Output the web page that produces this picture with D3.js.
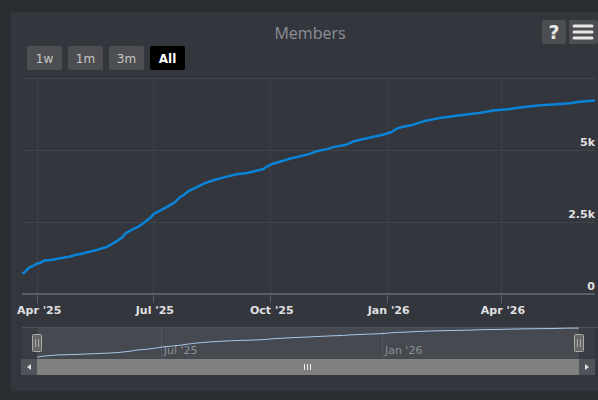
<!DOCTYPE html>
<meta charset="utf-8">
<style>
  body { margin: 0; background: #2a2d32; }
  svg { display: block; }
  .grid line { stroke: #41454c; stroke-width: 1; }
  .vgrid line { stroke: #3b3f46; stroke-width: 1; }
  .lbl { font-family: "DejaVu Sans", sans-serif; font-size: 11px; font-weight: bold; fill: #e0e0e3; }
  .nav-lbl { font-family: "DejaVu Sans", sans-serif; font-size: 11px; fill: #8c8f94; }
  .btn text { font-family: "DejaVu Sans", sans-serif; font-size: 12px; fill: #c8c8c8; }
</style>

<body>
  <script src="https://cdn.jsdelivr.net/npm/d3@7"></script>
  <script>

    // members over time
    var dates = [
      "2025-03-20", "2025-03-22", "2025-03-25", "2025-03-28", "2025-03-31", "2025-04-04", "2025-04-07",
      "2025-04-13", "2025-04-18", "2025-04-26", "2025-05-01", "2025-05-06", "2025-05-10", "2025-05-17",
      "2025-05-21", "2025-05-25", "2025-05-30", "2025-06-03", "2025-06-07", "2025-06-10", "2025-06-15",
      "2025-06-20", "2025-06-25", "2025-06-29", "2025-07-02", "2025-07-06", "2025-07-11", "2025-07-18",
      "2025-07-22", "2025-07-25", "2025-07-29", "2025-08-05", "2025-08-11", "2025-08-19", "2025-08-29",
      "2025-09-05", "2025-09-13", "2025-09-19", "2025-09-26", "2025-09-29", "2025-10-03", "2025-10-11",
      "2025-10-18", "2025-10-25", "2025-11-02", "2025-11-06", "2025-11-15", "2025-11-20", "2025-11-30",
      "2025-12-05", "2025-12-12", "2025-12-19", "2025-12-29", "2026-01-05", "2026-01-09", "2026-01-13",
      "2026-01-22", "2026-01-30", "2026-02-12", "2026-02-28", "2026-03-16", "2026-03-26", "2026-04-06",
      "2026-04-16", "2026-05-02", "2026-05-15", "2026-05-25", "2026-06-02", "2026-06-14"
    ];
    var members = [
      724, 745, 900, 956, 1040, 1096, 1166,
      1190, 1236, 1295, 1355, 1400, 1446, 1516,
      1575, 1621, 1740, 1845, 1971, 2125, 2240,
      2345, 2510, 2650, 2790, 2880, 3000, 3175,
      3350, 3430, 3570, 3720, 3850, 3965, 4085,
      4155, 4200, 4260, 4340, 4435, 4515, 4620,
      4715, 4785, 4875, 4945, 5030, 5100, 5180,
      5285, 5365, 5435, 5530, 5625, 5740, 5800,
      5880, 5995, 6115, 6205, 6290, 6370, 6415,
      6475, 6555, 6590, 6625, 6675, 6720
    ];
    var yTicks = [0, 2500, 5000, 7500];
    var yTickLabels = ["0", "2.5k", "5k", ""];
    var buttons = ["1w", "1m", "3m", "All"];
    var title = "Members";

    var parse = d3.timeParse("%Y-%m-%d");
    var data = dates.map(function (d, i) { return { date: parse(d), value: members[i] }; });

    var width = 598,
      height = 400;

    var svg = d3.select("body").append("svg")
      .attr("width", width)
      .attr("height", height);

    // panel
    svg.append("rect")
      .attr("x", 11).attr("y", 12)
      .attr("width", width - 11).attr("height", 379)
      .attr("fill", "#33363d");

    svg.append("text")
      .attr("x", 310).attr("y", 39)
      .attr("text-anchor", "middle")
      .style("font-family", "'Open Sans', sans-serif")
      .style("font-size", "16px")
      .style("fill", "#8b9096")
      .text(title);

    // range selector buttons
    var btn = svg.selectAll(".btn")
      .data(buttons)
      .enter().append("g")
      .attr("class", "btn")
      .attr("transform", function (d, i) { return "translate(" + (27 + i * 41) + ",46)"; });

    btn.append("rect")
      .attr("width", 35).attr("height", 24).attr("rx", 2)
      .attr("fill", function (d) { return d === "All" ? "#000" : "#4d4e51"; });

    btn.append("text")
      .attr("x", 17.5).attr("y", 17)
      .attr("text-anchor", "middle")
      .style("fill", function (d) { return d === "All" ? "#fff" : "#c8c8c8"; })
      .style("font-weight", function (d) { return d === "All" ? "bold" : "normal"; })
      .text(function (d) { return d; });

    // export / help buttons
    svg.append("rect").attr("x", 542).attr("y", 20).attr("width", 24).attr("height", 24).attr("rx", 2).attr("fill", "#4d4e51");
    svg.append("text").attr("x", 554).attr("y", 39).attr("text-anchor", "middle")
      .style("font-family", "'DejaVu Sans', sans-serif").style("font-size", "19px").style("font-weight", "bold")
      .style("fill", "#e6e6e6").text("?");
    svg.append("rect").attr("x", 569).attr("y", 20).attr("width", 29).attr("height", 24).attr("rx", 2).attr("fill", "#4d4e51");
    [26, 32, 38].forEach(function (yy) {
      svg.append("line").attr("x1", 574).attr("x2", 592).attr("y1", yy).attr("y2", yy)
        .attr("stroke", "#e6e6e6").attr("stroke-width", 3).attr("stroke-linecap", "round");
    });

    // main chart
    var x = d3.scaleTime()
      .domain([parse("2025-03-20"), parse("2026-06-14")])
      .range([22, 595]);

    var y = d3.scaleLinear()
      .domain([0, 7500])
      .range([294, 78]);

    var months = x.ticks(d3.timeMonth.every(3));
    var fmt = d3.timeFormat("%b '%y");

    svg.append("g").attr("class", "vgrid")
      .selectAll("line").data(months).enter().append("line")
      .attr("x1", function (d) { return Math.round(x(d)) + 0.5; })
      .attr("x2", function (d) { return Math.round(x(d)) + 0.5; })
      .attr("y1", 78).attr("y2", 294);

    svg.append("g").attr("class", "grid")
      .selectAll("line").data(yTicks.slice(1)).enter().append("line")
      .attr("x1", 22).attr("x2", 595)
      .attr("y1", function (d) { return Math.round(y(d)) + 0.5; })
      .attr("y2", function (d) { return Math.round(y(d)) + 0.5; });

    svg.selectAll(".ylbl")
      .data(yTicks).enter().append("text")
      .attr("class", "lbl")
      .attr("x", 595)
      .attr("y", function (d) { return y(d) - 4; })
      .attr("text-anchor", "end")
      .text(function (d, i) { return yTickLabels[i]; });

    // x axis line and ticks
    svg.append("line")
      .attr("x1", 22).attr("x2", 595).attr("y1", 294).attr("y2", 294)
      .attr("stroke", "#5b5e64").attr("stroke-width", 2);

    svg.selectAll(".xtick")
      .data(months).enter().append("line")
      .attr("x1", function (d) { return Math.round(x(d)) + 0.5; })
      .attr("x2", function (d) { return Math.round(x(d)) + 0.5; })
      .attr("y1", 295).attr("y2", 303)
      .attr("stroke", "#5b5e64");

    svg.selectAll(".xlbl")
      .data(months).enter().append("text")
      .attr("class", "lbl")
      .attr("x", function (d) { return x(d) + 2; })
      .attr("y", 314)
      .attr("text-anchor", "middle")
      .text(fmt);

    var line = d3.line()
      .x(function (d) { return x(d.date); })
      .y(function (d) { return y(d.value); });

    svg.append("path")
      .datum(data)
      .attr("d", line)
      .attr("fill", "none")
      .attr("stroke", "#0a84d8")
      .attr("stroke-width", 2.5)
      .attr("stroke-linejoin", "round");

    // navigator
    var nx = d3.scaleTime().domain(x.domain()).range([37, 579]);
    var ny = d3.scaleLinear().domain(d3.extent(members)).range([357, 328]);

    svg.append("rect").attr("x", 22).attr("y", 327).attr("width", 573).attr("height", 32).attr("fill", "#393c43");
    svg.append("rect").attr("x", 37).attr("y", 327).attr("width", 542).attr("height", 32).attr("fill", "#464950");
    svg.append("line").attr("x1", 22).attr("x2", 598).attr("y1", 327.5).attr("y2", 327.5)
      .attr("stroke", "#4e5157");

    var navTicks = nx.ticks(d3.timeMonth.every(6));
    svg.selectAll(".nvgrid")
      .data(navTicks).enter().append("line")
      .attr("x1", function (d) { return Math.round(nx(d)) + 0.5; })
      .attr("x2", function (d) { return Math.round(nx(d)) + 0.5; })
      .attr("y1", 328).attr("y2", 359)
      .attr("stroke", "#55585e");

    svg.selectAll(".nvlbl")
      .data(navTicks).enter().append("text")
      .attr("class", "nav-lbl")
      .attr("x", function (d) { return nx(d) + 3; })
      .attr("y", 354)
      .text(fmt);

    var navLine = d3.line()
      .x(function (d) { return nx(d.date); })
      .y(function (d) { return ny(d.value); });

    svg.append("path")
      .datum(data)
      .attr("d", navLine)
      .attr("fill", "none")
      .attr("stroke", "#a9c8ea")
      .attr("stroke-width", 1);

    // handles
    [37, 579].forEach(function (hx) {
      var g = svg.append("g").attr("transform", "translate(" + (hx - 5) + ",334)");
      g.append("rect").attr("x", 0.5).attr("y", 0.5).attr("width", 9).attr("height", 17).attr("rx", 1)
        .attr("fill", "#666").attr("stroke", "#aaa");
      g.append("line").attr("x1", 3.5).attr("x2", 3.5).attr("y1", 5).attr("y2", 13).attr("stroke", "#aaa");
      g.append("line").attr("x1", 6.5).attr("x2", 6.5).attr("y1", 5).attr("y2", 13).attr("stroke", "#aaa");
    });

    // scrollbar
    svg.append("rect").attr("x", 21).attr("y", 359).attr("width", 574).attr("height", 16).attr("fill", "#3c3f45");
    svg.append("rect").attr("x", 21).attr("y", 359).attr("width", 16).attr("height", 16).attr("fill", "#505359");
    svg.append("rect").attr("x", 579).attr("y", 359).attr("width", 16).attr("height", 16).attr("fill", "#505359");
    svg.append("rect").attr("x", 37).attr("y", 359).attr("width", 542).attr("height", 16).attr("fill", "#808080");
    svg.append("path").attr("d", "M31,364 L27,367 L31,370 Z").attr("fill", "#ddd");
    svg.append("path").attr("d", "M585,364 L589,367 L585,370 Z").attr("fill", "#ddd");
    [304, 307, 310].forEach(function (gx) {
      svg.append("line").attr("x1", gx + 0.5).attr("x2", gx + 0.5).attr("y1", 364).attr("y2", 370)
        .attr("stroke", "#eee");
    });

  </script>
